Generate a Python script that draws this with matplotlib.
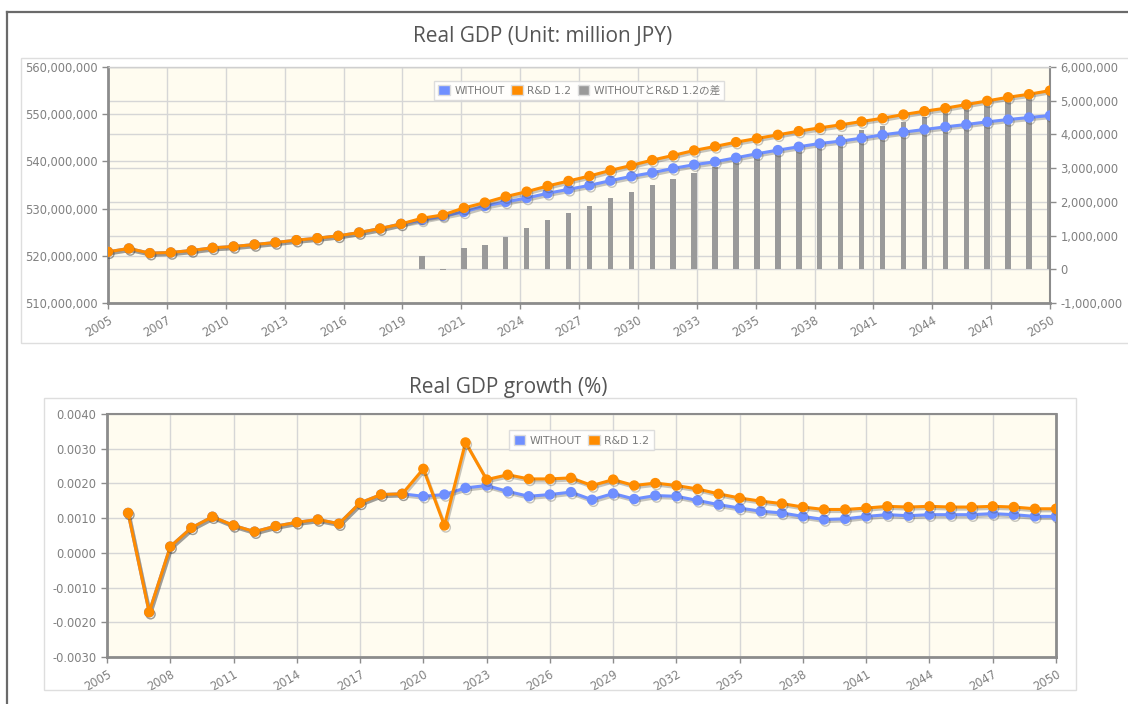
import numpy as np
import matplotlib
matplotlib.use("Agg")
import matplotlib.pyplot as plt
import matplotlib.patheffects as pe
import matplotlib.transforms as mtransforms
from matplotlib.patches import Patch, Rectangle
from matplotlib.lines import Line2D
from matplotlib.ticker import FuncFormatter

# -----------------------------
# Data
# -----------------------------
years = list(range(2005, 2051))

# Real GDP, million JPY
gdp_rd = [520.85, 521.55, 520.56, 520.70, 521.13, 521.69, 521.97, 522.39, 522.82, 523.31,
          523.73, 524.23, 524.93, 525.77, 526.76, 527.96, 528.66, 530.14, 531.27, 532.54,
          533.59, 534.79, 535.85, 536.90, 538.10, 539.15, 540.28, 541.27, 542.32, 543.17,
          544.08, 544.86, 545.63, 546.41, 547.11, 547.75, 548.45, 549.15, 549.93, 550.63,
          551.27, 552.04, 552.82, 553.59, 554.23, 555.00]
gdp_without = [520.85, 521.55, 520.56, 520.70, 521.13, 521.69, 521.97, 522.39, 522.82, 523.31,
               523.73, 524.23, 524.93, 525.77, 526.76, 527.60, 528.45, 529.30, 530.56, 531.41,
               532.25, 533.24, 534.08, 534.93, 535.92, 536.83, 537.61, 538.52, 539.30, 539.93,
               540.77, 541.62, 542.39, 543.10, 543.80, 544.30, 544.93, 545.63, 546.20, 546.76,
               547.32, 547.82, 548.38, 548.87, 549.30, 549.72]

# difference bars (right axis), million JPY
diff_years = list(range(2020, 2051))
gdp_diff = [0.39, -0.03, 0.64, 0.71, 0.96, 1.22, 1.46, 1.68, 1.88, 2.10,
            2.30, 2.50, 2.68, 2.85, 3.03, 3.19, 3.34, 3.49, 3.64, 3.84,
            3.99, 4.14, 4.26, 4.38, 4.53, 4.65, 4.78, 4.91, 5.01, 5.13, 5.23]

# Real GDP growth
growth_years = list(range(2006, 2051))
growth_rd = [0.00115, -0.00171, 0.00018, 0.00072, 0.00104, 0.00079, 0.00061, 0.00077, 0.00088,
             0.00096, 0.00084, 0.00144, 0.00168, 0.00170, 0.00242, 0.00079, 0.00318, 0.00211,
             0.00225, 0.00213, 0.00213, 0.00216, 0.00194, 0.00211, 0.00194, 0.00201, 0.00194,
             0.00184, 0.00170, 0.00158, 0.00149, 0.00142, 0.00132, 0.00125, 0.00125, 0.00129,
             0.00134, 0.00132, 0.00134, 0.00132, 0.00132, 0.00134, 0.00132, 0.00127, 0.00127]
growth_without = [0.00115, -0.00171, 0.00018, 0.00072, 0.00104, 0.00079, 0.00061, 0.00077, 0.00088,
                  0.00096, 0.00084, 0.00144, 0.00168, 0.00170, 0.00163, 0.00168, 0.00187, 0.00194,
                  0.00177, 0.00163, 0.00168, 0.00175, 0.00153, 0.00171, 0.00155, 0.00165, 0.00163,
                  0.00151, 0.00139, 0.00129, 0.00120, 0.00115, 0.00105, 0.00096, 0.00098, 0.00105,
                  0.00110, 0.00107, 0.00110, 0.00110, 0.00110, 0.00113, 0.00110, 0.00105, 0.00105]

top_xticklabels = ["2005", "2007", "2010", "2013", "2016", "2019", "2021", "2024", "2027",
                   "2030", "2033", "2035", "2038", "2041", "2044", "2047", "2050"]
bottom_xticklabels = [str(y) for y in range(2005, 2051, 3)]

# -----------------------------
# Style
# -----------------------------
W, H = 1128, 704
C_BLUE = "#6f8fff"
C_ORANGE = "#ff8c00"
C_BAR = "#9a9a9a"
BG = "#fffcf0"
GRID = "#d6d6d6"
TICK = "#808080"
SPINE = "#8c8c8c"
LABEL_SIZE = 8.3

plt.rcParams["font.family"] = ["DejaVu Sans", "Noto Sans CJK JP"]

fig = plt.figure(figsize=(W / 100, H / 100), dpi=100)
fig.patch.set_facecolor("white")


def px_box(x0, y0, x1, y1):
    return [x0 / W, 1 - y1 / H, (x1 - x0) / W, (y1 - y0) / H]


shadow = [pe.SimpleLineShadow(offset=(1.0, -1.5), alpha=0.3, shadow_color="#444444"), pe.Normal()]

# outer frame + chart containers
fig.add_artist(Line2D([7 / W, 1], [1 - 12 / H, 1 - 12 / H], transform=fig.transFigure,
                      color="#6a6a6a", lw=1.6))
fig.add_artist(Line2D([7 / W, 7 / W], [0, 1 - 12 / H], transform=fig.transFigure,
                      color="#6a6a6a", lw=1.6))
fig.add_artist(Rectangle((21 / W, 1 - 343 / H), (1140 - 21) / W, (343 - 58) / H,
                         transform=fig.transFigure, fill=False, edgecolor="#dedede", lw=1))
fig.add_artist(Rectangle((44 / W, 1 - 690 / H), (1076 - 44) / W, (690 - 398) / H,
                         transform=fig.transFigure, fill=False, edgecolor="#dedede", lw=1))

# -----------------------------
# Top chart: Real GDP
# -----------------------------
ax = fig.add_axes(px_box(108, 67, 1050, 303))   # bars, right scale
ax_l = ax.twinx()                                  # lines, left scale
ax.set_facecolor(BG)
ax_l.patch.set_visible(False)

ax.yaxis.tick_right()
ax.yaxis.set_label_position("right")
ax_l.yaxis.tick_left()
ax_l.yaxis.set_label_position("left")

ax.bar(diff_years, np.array(gdp_diff) * 1e6, width=0.26, color=C_BAR, zorder=2)
ax.set_ylim(-1e6, 6e6)
ax.set_yticks(np.arange(-1e6, 6.1e6, 1e6))
ax.yaxis.set_major_formatter(FuncFormatter(lambda v, p: f"{int(round(v)):,}"))

ax_l.plot(years, np.array(gdp_without) * 1e6, color=C_BLUE, lw=2.2, marker="o", ms=6.5,
          path_effects=shadow, zorder=3)
ax_l.plot(years, np.array(gdp_rd) * 1e6, color=C_ORANGE, lw=2.2, marker="o", ms=6.5,
          path_effects=shadow, zorder=4)
ax_l.set_ylim(510e6, 560e6)
left_ticks = np.arange(510e6, 560.1e6, 10e6)
ax_l.set_yticks(left_ticks)
ax_l.yaxis.set_major_formatter(FuncFormatter(lambda v, p: f"{int(round(v)):,}"))

# left-scale grid lines drawn behind the bars
blend = mtransforms.blended_transform_factory(ax.transAxes, ax_l.transData)
for v in left_ticks:
    ax.add_line(Line2D([0, 1], [v, v], transform=blend, color=GRID, lw=1, zorder=0.5))

ax.set_xlim(2005, 2050)
ax.set_xticks(np.linspace(2005, 2050, len(top_xticklabels)))
ax.set_xticklabels(top_xticklabels, rotation=30, ha="right", rotation_mode="anchor")
ax.grid(True, color=GRID, lw=1, zorder=0.5)
ax.set_axisbelow(True)

for a in (ax, ax_l):
    a.tick_params(axis="both", colors=SPINE, labelcolor=TICK, labelsize=LABEL_SIZE,
                  length=4, width=1)
    for s in a.spines.values():
        s.set_visible(False)
for side in ("left", "bottom", "right", "top"):
    ax.spines[side].set_visible(True)
ax.spines["left"].set_color(SPINE)
ax.spines["left"].set_linewidth(2)
ax.spines["bottom"].set_color(SPINE)
ax.spines["bottom"].set_linewidth(2)
ax.spines["right"].set_color(SPINE)
ax.spines["right"].set_linewidth(1.5)
ax.spines["top"].set_color("#cfcfcf")
ax.spines["top"].set_linewidth(1)

handles = [Patch(facecolor=C_BLUE, edgecolor="#dddddd"),
           Patch(facecolor=C_ORANGE, edgecolor="#dddddd"),
           Patch(facecolor=C_BAR, edgecolor="#dddddd")]
leg = ax_l.legend(handles, ["WITHOUT", "R&D 1.2", "WITHOUTとR&D 1.2の差"],
                  loc="upper center", bbox_to_anchor=(0.5, 0.965), ncol=3,
                  fontsize=7.7, frameon=True, fancybox=False, handlelength=1.1, handleheight=1.1,
                  handletextpad=0.4, columnspacing=0.6, borderpad=0.4, labelcolor="#7a7a7a")
leg.get_frame().set_edgecolor("#d8d8d8")
leg.get_frame().set_facecolor("white")
leg.get_frame().set_alpha(0.85)

fig.text(543 / W, 1 - 37 / H, "Real GDP (Unit: million JPY)", ha="center", va="center",
         fontsize=15, color="#555555", family=["Open Sans", "DejaVu Sans"])

# -----------------------------
# Bottom chart: Real GDP growth
# -----------------------------
bx = fig.add_axes(px_box(107, 414, 1056, 657))
bx.set_facecolor(BG)
bx.plot(growth_years, growth_without, color=C_BLUE, lw=2.2, marker="o", ms=6.5,
        path_effects=shadow, zorder=3)
bx.plot(growth_years, growth_rd, color=C_ORANGE, lw=2.2, marker="o", ms=6.5,
        path_effects=shadow, zorder=4)
bx.set_xlim(2005, 2050)
bx.set_xticks(range(2005, 2051, 3))
bx.set_xticklabels(bottom_xticklabels, rotation=30, ha="right", rotation_mode="anchor")
bx.set_ylim(-0.003, 0.004)
bx.set_yticks(np.arange(-0.003, 0.00401, 0.001))
bx.yaxis.set_major_formatter(FuncFormatter(lambda v, p: f"{v:.4f}"))
bx.grid(True, color=GRID, lw=1)
bx.set_axisbelow(True)
bx.tick_params(axis="both", colors=SPINE, labelcolor=TICK, labelsize=LABEL_SIZE, length=4, width=1)
for side, lw in (("left", 2), ("bottom", 2), ("right", 2), ("top", 1.5)):
    bx.spines[side].set_color(SPINE)
    bx.spines[side].set_linewidth(lw)

leg2 = bx.legend(handles[:2], ["WITHOUT", "R&D 1.2"], loc="upper center",
                 bbox_to_anchor=(0.5, 0.955), ncol=2, fontsize=7.8, frameon=True, fancybox=False,
                 handlelength=1.1, handleheight=1.1, handletextpad=0.4, columnspacing=0.6,
                 borderpad=0.4, labelcolor="#7a7a7a")
leg2.get_frame().set_edgecolor("#d8d8d8")
leg2.get_frame().set_facecolor("white")
leg2.get_frame().set_alpha(0.85)

fig.text(508 / W, 1 - 388 / H, "Real GDP growth (%)", ha="center", va="center",
         fontsize=15, color="#555555", family=["Open Sans", "DejaVu Sans"])

fig.savefig("out.png", dpi=100, facecolor="white")
